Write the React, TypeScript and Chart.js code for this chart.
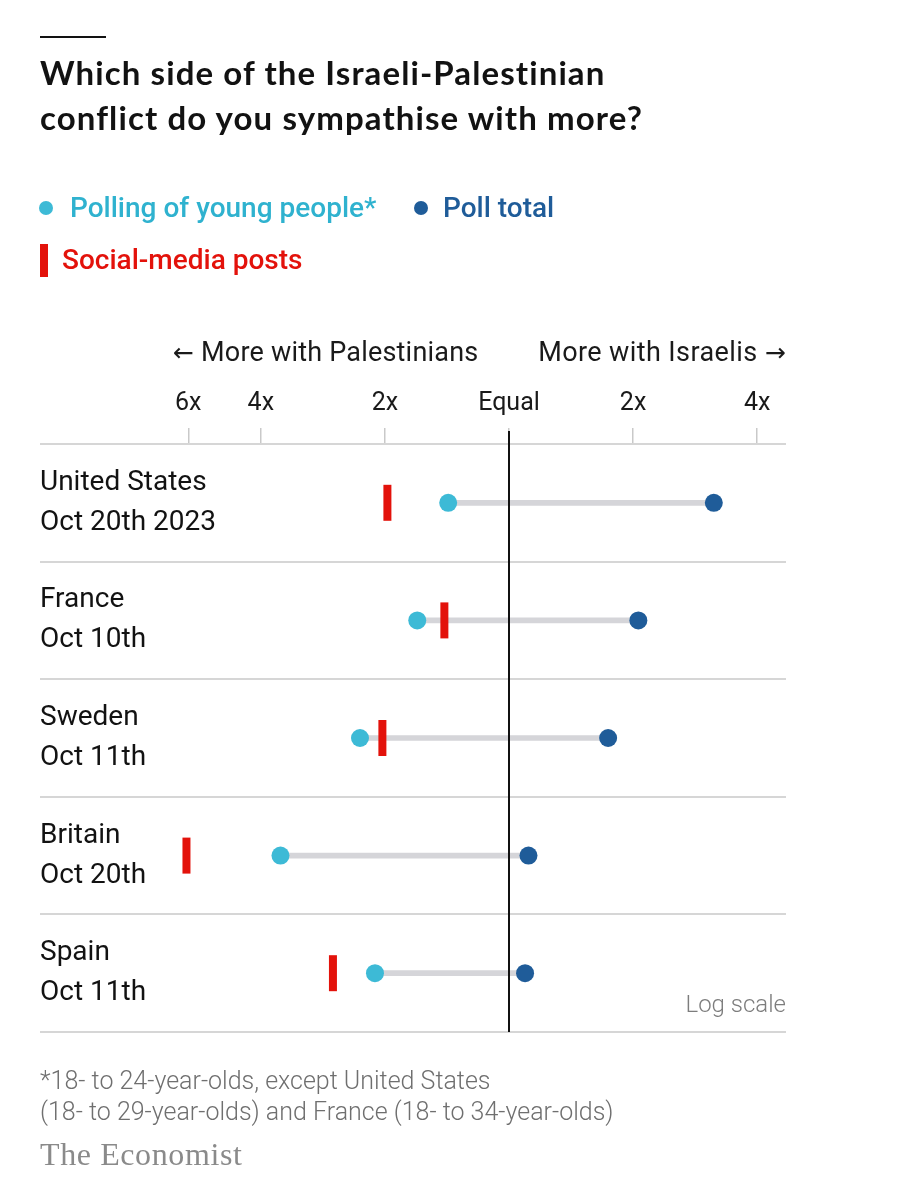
import React, { useEffect, useRef } from "react";
import { Chart, registerables } from "chart.js";

Chart.register(...registerables);

// ---- data ----
const countryNames = ["United States", "France", "Sweden", "Britain", "Spain"];
const pollDates = ["Oct 20th 2023", "Oct 10th", "Oct 11th", "Oct 20th", "Oct 11th"];
// ratio of sympathy with Israelis to sympathy with Palestinians (below 1 = more with Palestinians)
const youngPeople = [0.712, 0.599, 0.435, 0.279, 0.473];
const pollTotal = [3.14, 2.06, 1.74, 1.115, 1.094];
const socialMedia = [0.507, 0.697, 0.493, 0.165, 0.374];
const tickValues = [1 / 6, 1 / 4, 1 / 2, 1, 2, 4];
const tickLabels = ["6x", "4x", "2x", "Equal", "2x", "4x"];
const axisMin = 0.0728;
const axisMax = 4.7;

const LIGHT = "#3dbad6";
const DARK = "#1f5c99";
const RED = "#e3120b";

const METRICS: Record<string, [number, number]> = {
  Roboto: [0.928, 0.244],
  Lato: [0.987, 0.213],
  "Liberation Serif": [0.891, 0.216],
};

function Txt(props: {
  x: number;
  baseline: number;
  size: number;
  family: string;
  weight?: number | string;
  color?: string;
  align?: "left" | "right";
  ls?: number;
  children: React.ReactNode;
}) {
  const [a, d] = METRICS[props.family] || [0.9, 0.25];
  const style: React.CSSProperties = {
    position: "absolute",
    top: props.baseline - a * props.size,
    fontFamily: `"${props.family}", sans-serif`,
    fontSize: props.size,
    fontWeight: props.weight ?? 400,
    color: props.color ?? "#121212",
    lineHeight: `${(a + d) * props.size}px`,
    whiteSpace: "nowrap",
    letterSpacing: props.ls ?? 0,
  };
  if (props.align === "right") style.right = 924 - props.x;
  else style.left = props.x;
  return <div style={style}>{props.children}</div>;
}

const arrowStyle: React.CSSProperties = { fontFamily: '"DejaVu Sans", sans-serif', fontSize: 25 };

const equalLinePlugin = {
  id: "equalLine",
  afterDatasetsDraw(chart: any) {
    const { ctx, chartArea, scales } = chart;
    const px = Math.round(scales.x.getPixelForValue(1));
    ctx.save();
    ctx.strokeStyle = "#111111";
    ctx.lineWidth = 2;
    ctx.beginPath();
    ctx.moveTo(px, chartArea.top - 13);
    ctx.lineTo(px, chartArea.bottom);
    ctx.stroke();
    ctx.restore();
  },
};

export default function App() {
  const canvasRef = useRef<HTMLCanvasElement | null>(null);

  useEffect(() => {
    const canvas = canvasRef.current;
    if (!canvas) return;
    const labels = countryNames.map((c, i) => [c, pollDates[i]]);
    const chart = new Chart(canvas, {
      type: "bar",
      data: {
        labels,
        datasets: [
          {
            type: "bar",
            label: "range",
            data: youngPeople.map((v, i) => [v, pollTotal[i]]),
            backgroundColor: "#d5d5d9",
            barThickness: 5,
            borderWidth: 0,
            borderSkipped: false,
            indexAxis: "y",
            order: 3,
          } as any,
          {
            type: "line",
            label: "Social-media posts",
            data: socialMedia,
            indexAxis: "y",
            showLine: false,
            pointStyle: "line",
            rotation: 90,
            pointRadius: 18,
            pointBorderWidth: 8,
            pointBorderColor: RED,
            pointBackgroundColor: RED,
            order: 2,
          } as any,
          {
            type: "line",
            label: "Polling of young people*",
            data: youngPeople,
            indexAxis: "y",
            showLine: false,
            pointRadius: 9,
            pointBorderWidth: 0,
            pointBackgroundColor: LIGHT,
            pointBorderColor: LIGHT,
            order: 1,
          } as any,
          {
            type: "line",
            label: "Poll total",
            data: pollTotal,
            indexAxis: "y",
            showLine: false,
            pointRadius: 9,
            pointBorderWidth: 0,
            pointBackgroundColor: DARK,
            pointBorderColor: DARK,
            order: 0,
          } as any,
        ],
      },
      options: {
        responsive: false,
        animation: false,
        indexAxis: "y",
        layout: { padding: { left: 40, right: 138, top: 380, bottom: 168 } },
        plugins: { legend: { display: false }, tooltip: { enabled: false } },
        scales: {
          x: {
            type: "logarithmic",
            position: "top",
            min: axisMin,
            max: axisMax,
            bounds: "data",
            afterBuildTicks: (scale: any) => {
              scale.ticks = tickValues.map((v) => ({ value: v }));
            },
            ticks: {
              autoSkip: false,
              maxRotation: 0,
              padding: 9,
              color: "#1a1a1a",
              font: { family: "Roboto", size: 25, lineHeight: 1.2 },
              callback: (_v: any, i: number) => tickLabels[i],
            },
            grid: {
              drawOnChartArea: false,
              drawTicks: true,
              tickLength: 16,
              color: "#c9c9c9",
              lineWidth: 1.5,
            },
            border: { display: false },
          } as any,
          y: {
            type: "category",
            offset: true,
            ticks: {
              mirror: true,
              padding: 0,
              color: "#121212",
              font: { family: "Roboto", size: 28, lineHeight: 40 / 28 },
            },
            grid: {
              offset: true,
              drawTicks: false,
              color: "#d6d6d6",
              lineWidth: 2,
            },
            border: { display: false },
          } as any,
        },
      },
      plugins: [equalLinePlugin],
    });
    return () => chart.destroy();
  }, []);

  return (
    <div style={{ position: "absolute", left: 0, top: 0, width: 924, height: 1200, background: "#fff" }}>
      <canvas ref={canvasRef} width={924} height={1200} style={{ position: "absolute", left: 0, top: 0, width: 924, height: 1200 }} />
      <div style={{ position: "absolute", left: 40, top: 36, width: 66, height: 2, background: "#121212" }} />
      <Txt x={40} baseline={86} size={33} family="Lato" weight={700} ls={1.1}>
        Which side of the Israeli-Palestinian
      </Txt>
      <Txt x={40} baseline={131} size={33} family="Lato" weight={700} ls={1.1}>
        conflict do you sympathise with more?
      </Txt>

      <div style={{ position: "absolute", left: 39, top: 201, width: 14, height: 14, borderRadius: "50%", background: LIGHT }} />
      <Txt x={70} baseline={218} size={28} family="Roboto" weight={500} color="#2fb2cf">
        Polling of young people*
      </Txt>
      <div style={{ position: "absolute", left: 414, top: 201, width: 14, height: 14, borderRadius: "50%", background: DARK }} />
      <Txt x={443} baseline={218} size={28} family="Roboto" weight={500} color={DARK}>
        Poll total
      </Txt>
      <div style={{ position: "absolute", left: 40, top: 244, width: 8, height: 33, background: RED }} />
      <Txt x={62} baseline={270} size={28} family="Roboto" weight={500} color={RED}>
        Social-media posts
      </Txt>

      <Txt x={173} baseline={362} size={27} family="Roboto" color="#1a1a1a" ls={0.2}>
        <span style={arrowStyle}>←</span> More with Palestinians
      </Txt>
      <Txt x={786} baseline={362} size={27} family="Roboto" color="#1a1a1a" align="right" ls={0.4}>
        More with Israelis <span style={arrowStyle}>→</span>
      </Txt>

      <Txt x={786} baseline={1012} size={24} family="Roboto" weight={300} color="#7d7d7d" align="right">
        Log scale
      </Txt>

      <Txt x={40} baseline={1089} size={25} family="Roboto" weight={300} color="#6f6f6f">
        *18- to 24-year-olds, except United States
      </Txt>
      <Txt x={40} baseline={1120} size={25} family="Roboto" weight={300} color="#6f6f6f">
        (18- to 29-year-olds) and France (18- to 34-year-olds)
      </Txt>
      <Txt x={40} baseline={1166} size={32} family="Liberation Serif" color="#8a8a8a" ls={0.6}>
        The Economist
      </Txt>
    </div>
  );
}
